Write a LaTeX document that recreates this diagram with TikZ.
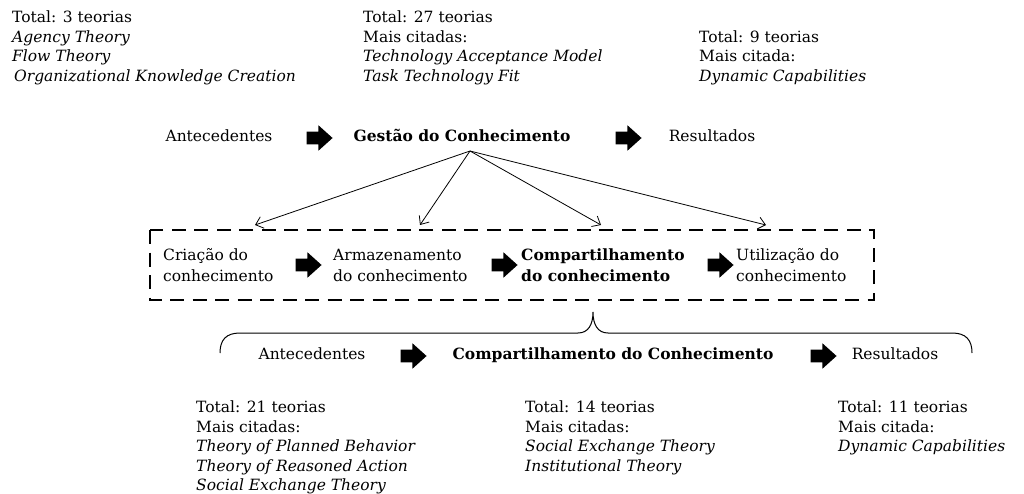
\documentclass[tikz,border=0pt]{standalone}
\usepackage{fontspec}
\setmainfont{DejaVu Serif}
\usetikzlibrary{arrows.meta,shapes.arrows}
\begin{document}
\begin{tikzpicture}[x=1pt,y=-1pt,
  txt/.style={font=\fontsize{15.5}{19.5}\selectfont, inner sep=0pt, text height=11.3pt, text depth=3.5pt},
  blk/.style={font=\fontsize{15.5}{19.5}\selectfont, inner sep=0pt, align=left, anchor=north west},
  blk2/.style={font=\fontsize{15.5}{21}\selectfont, inner sep=0pt, align=left, anchor=west},
  barrow/.style={single arrow, fill=black, draw=none, minimum height=26pt,
    text height=0pt, text depth=0pt, inner xsep=0pt, inner ysep=6.2pt,
    single arrow head extend=6.3pt, single arrow tip angle=84},
  thinarrow/.style={line width=0.8pt, -{Straight Barb[length=7pt,width=12pt]}},
  boxline/.style={line width=2.8pt, dash pattern=on 14pt off 8.5pt},
  bracel/.style={line width=1pt}
]
\useasboundingbox (0,0) rectangle (1024,494);
\fill[white] (0,0) rectangle (1024,494);

% top blocks
\node[blk] (tl) at (12,10.7) {Total: 3 teorias\\\textit{Agency Theory}\\\textit{Flow Theory}\\\hspace{2pt}\textit{Organizational Knowledge Creation}};
\node[blk] (tm) at (363,10.7) {Total: 27 teorias\\Mais citadas:\\\textit{Technology Acceptance Model}\\\textit{Task Technology Fit}};
\node[blk] (tr) at (699,30.2) {Total: 9 teorias\\Mais citada:\\\textit{Dynamic Capabilities}};

% row 1
\node[txt] (ant1) at (219,138) {Antecedentes};
\node[barrow] (a1) at (316,138) {};
\node[txt,font=\fontsize{15.5}{19.5}\selectfont\bfseries] (gc) at (462,138) {Gestão do Conhecimento};
\node[barrow] (a2) at (625,138) {};
\node[txt] (res1) at (712,138) {Resultados};

% arrows from GC
\coordinate (gco) at (470,151);
\coordinate (t1) at (255,225);
\coordinate (t2) at (420,225);
\coordinate (t3) at (601,225);
\coordinate (t4) at (766,225);
\draw[thinarrow] (gco) -- (t1);
\draw[thinarrow] (gco) -- (t2);
\draw[thinarrow] (gco) -- (t3);
\draw[thinarrow] (gco) -- (t4);

% dashed box
\coordinate (bx1) at (150,230);
\coordinate (bx2) at (874,300);
\draw[boxline] (bx1) rectangle (bx2);

% row 2
\node[blk2] (c1) at (163,265) {Criação do\\conhecimento};
\node[barrow] (b1) at (305,265) {};
\node[blk2] (c2) at (333,265) {Armazenamento\\do conhecimento};
\node[barrow] (b2) at (501,265) {};
\node[blk2,font=\fontsize{15.5}{21}\selectfont\bfseries] (c3) at (521,265) {Compartilhamento\\do conhecimento};
\node[barrow] (b3) at (717,265) {};
\node[blk2] (c4) at (736,265) {Utilização do\\conhecimento};

% brace
\draw[bracel] (220,353) .. controls (220,340) and (226,333) .. (240,333) -- (578,333)
  .. controls (588,333) and (593,325) .. (593,312)
  .. controls (593,325) and (598,333) .. (608,333) -- (952,333)
  .. controls (966,333) and (972,340) .. (972,353);

% row 3
\node[txt] (ant2) at (312,356) {Antecedentes};
\node[barrow] (d1) at (410,356) {};
\node[txt,font=\fontsize{15.5}{19.5}\selectfont\bfseries] (cc) at (613,356) {Compartilhamento do Conhecimento};
\node[barrow] (d2) at (820,356) {};
\node[txt] (res2) at (895,356) {Resultados};

% bottom blocks
\node[blk] (bl) at (196,400.7) {Total: 21 teorias\\Mais citadas:\\\textit{Theory of Planned Behavior}\\\textit{Theory of Reasoned Action}\\\textit{Social Exchange Theory}};
\node[blk] (bm) at (525,400.7) {Total: 14 teorias\\Mais citadas:\\\textit{Social Exchange Theory}\\\textit{Institutional Theory}};
\node[blk] (br) at (838,400.7) {Total: 11 teorias\\Mais citada:\\\textit{Dynamic Capabilities}};
\end{tikzpicture}
\end{document}
